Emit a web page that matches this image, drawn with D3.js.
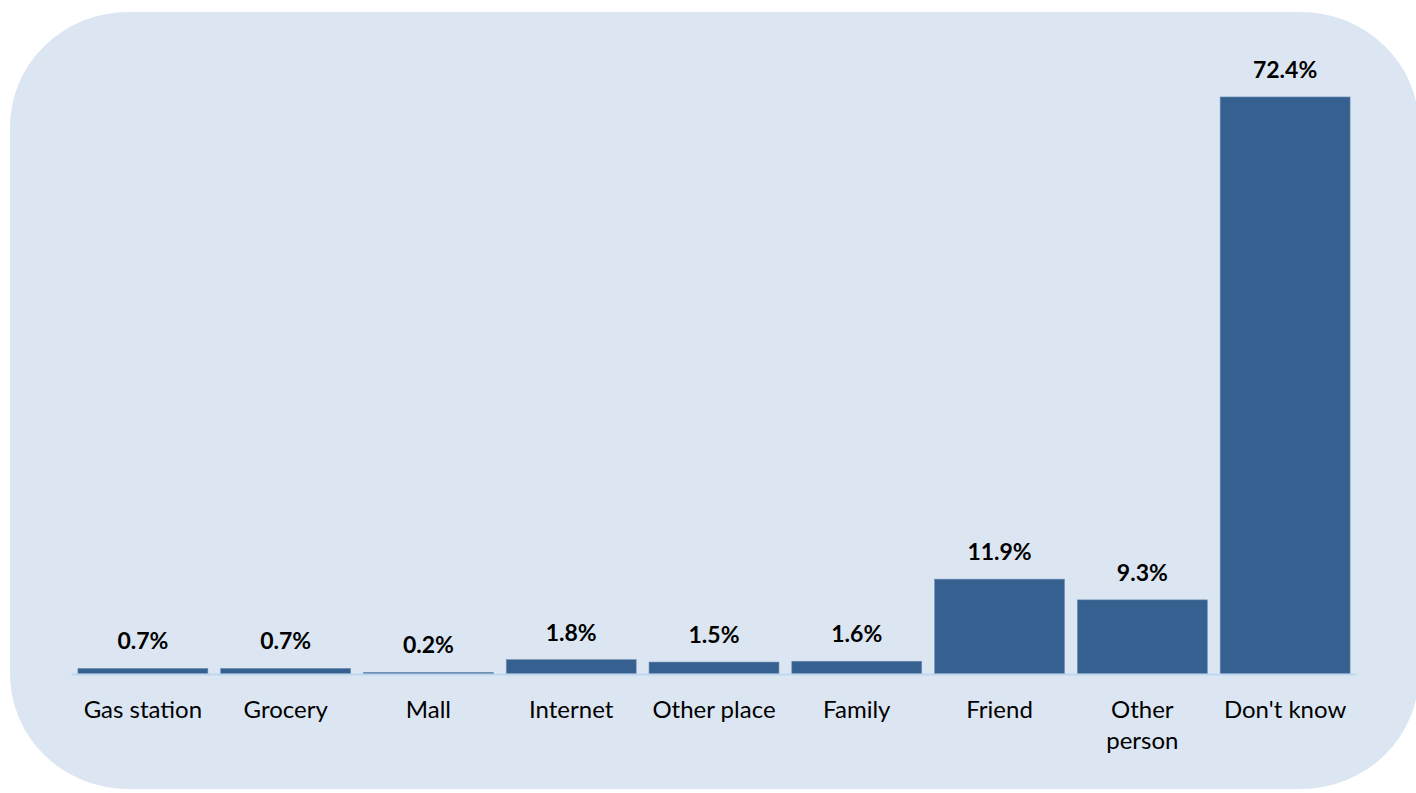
<!DOCTYPE html>
<html>
<head>
<meta charset="utf-8">
<script src="https://cdn.jsdelivr.net/npm/d3@7"></script>
<style>
  html, body { margin: 0; padding: 0; background: #ffffff; }
  svg { display: block; }
</style>
</head>
<body>
<svg id="chart" width="1416" height="793"></svg>
<script>
const categories = ["Gas station", "Grocery", "Mall", "Internet", "Other place", "Family", "Friend", "Other person", "Don't know"];
const values = [0.7, 0.7, 0.2, 1.8, 1.5, 1.6, 11.9, 9.3, 72.4];
const labelLines = [["Gas station"], ["Grocery"], ["Mall"], ["Internet"], ["Other place"], ["Family"], ["Friend"], ["Other", "person"], ["Don't know"]];

const svg = d3.select("#chart");

// background panel
svg.append("rect")
  .attr("x", 10).attr("y", 12)
  .attr("width", 1409).attr("height", 777)
  .attr("rx", 118).attr("ry", 115)
  .attr("fill", "#dce6f2");

const x = d3.scaleBand()
  .domain(categories)
  .range([71.5, 1356.5])
  .paddingInner(0.09)
  .paddingOuter(0.045);

const y = d3.scaleLinear()
  .domain([0, 80])
  .range([674, 36.4]);

const g = svg.append("g");

g.selectAll("rect.bar")
  .data(categories)
  .join("rect")
  .attr("class", "bar")
  .attr("x", d => x(d))
  .attr("width", x.bandwidth())
  .attr("y", (d, i) => y(values[i]))
  .attr("height", (d, i) => y(0) - y(values[i]))
  .attr("fill", "#36608f")
  .attr("stroke", "#6f8fb5")
  .attr("stroke-width", 0.6);

// baseline
g.append("line")
  .attr("x1", x.range()[0]).attr("x2", x.range()[1])
  .attr("y1", y(0) + 0.5).attr("y2", y(0) + 0.5)
  .attr("stroke", "#bdd7ee")
  .attr("stroke-width", 2);

// value labels
g.selectAll("text.val")
  .data(categories)
  .join("text")
  .attr("class", "val")
  .attr("x", d => x(d) + x.bandwidth() / 2)
  .attr("y", (d, i) => y(values[i]) - 19)
  .attr("text-anchor", "middle")
  .attr("font-family", "Lato, 'Open Sans', sans-serif")
  .attr("font-weight", "bold")
  .attr("font-size", 23)
  .attr("fill", "#000")
  .text((d, i) => values[i].toFixed(1) + "%");

// category labels
const cat = g.selectAll("text.cat")
  .data(categories)
  .join("text")
  .attr("class", "cat")
  .attr("x", d => x(d) + x.bandwidth() / 2)
  .attr("y", 718)
  .attr("text-anchor", "middle")
  .attr("font-family", "Lato, 'Open Sans', sans-serif")
  .attr("font-size", 24)
  .attr("fill", "#000");

cat.each(function(d, i) {
  const t = d3.select(this);
  labelLines[i].forEach((line, j) => {
    t.append("tspan")
      .attr("x", x(d) + x.bandwidth() / 2)
      .attr("dy", j === 0 ? 0 : 31)
      .text(line);
  });
});
</script>
</body>
</html>
